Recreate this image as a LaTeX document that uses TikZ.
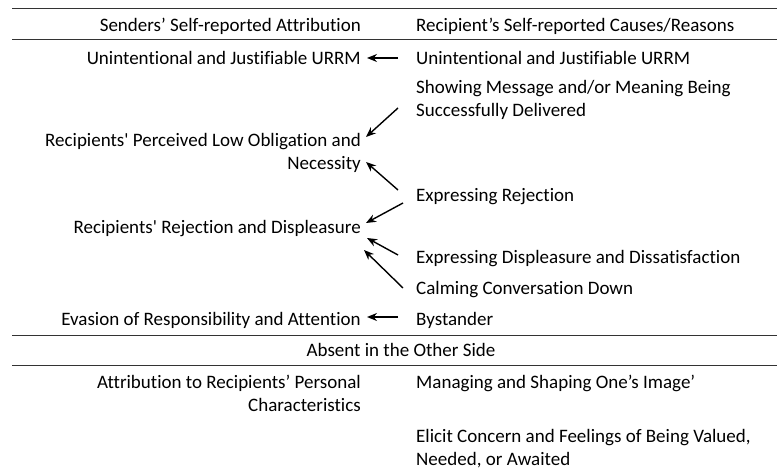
\documentclass[tikz,border=0pt]{standalone}
\usepackage{fontspec}
\setmainfont{Carlito}[Ligatures=NoCommon]
\usetikzlibrary{arrows.meta}
\tikzset{
  txt/.style={inner sep=0pt, font=\fontsize{19}{23}\selectfont},
  lft/.style={txt, anchor=base east, align=right},
  rgt/.style={txt, anchor=base west, align=left},
  rule/.style={line width=0.9pt, black!80},
  arr/.style={-{Stealth[length=10pt,width=8pt]}, line width=1.4pt}
}
\begin{document}
\begin{tikzpicture}[x=1pt,y=-1pt]
        \useasboundingbox (0,0) rectangle (777,470);
        \coordinate (E) at (12,0);
        \coordinate (W) at (777,0);
        \node[lft] (Lh) at (361,31.5) {Senders’ Self-reported Attribution};
        \node[rgt] (Rh) at (416,31.5) {Recipient’s Self-reported Causes/Reasons};
        \node[lft] (L1) at (361,64.5) {Unintentional and Justifiable URRM};
        \node[rgt] (R1) at (416,64.5) {Unintentional and Justifiable URRM};
        \node[rgt] (R2) at (416,116.5) {Showing Message and/or Meaning Being\\Successfully Delivered};
        \node[lft] (L2) at (361,169.5) {Recipients\textquotesingle{} Perceived Low Obligation and\\Necessity};
        \node[rgt] (R3) at (416,201.5) {Expressing Rejection};
        \node[lft] (L3) at (361,233.5) {Recipients\textquotesingle{} Rejection and Displeasure};
        \node[rgt] (R4) at (416,263.5) {Expressing Displeasure and Dissatisfaction};
        \node[rgt] (R5) at (416,294.5) {Calming Conversation Down};
        \node[lft] (L4) at (361,325.5) {Evasion of Responsibility and Attention};
        \node[rgt] (R6) at (416,325.5) {Bystander};
        \node[txt, anchor=base] (M) at (401,356.5) {Absent in the Other Side};
        \node[lft] (L5) at (361,411.5) {Attribution to Recipients’ Personal\\Characteristics};
        \node[rgt] (R7) at (416,388.5) {Managing and Shaping One’s Image’};
        \node[rgt] (R8) at (416,465.5) {Elicit Concern and Feelings of Being Valued,\\Needed, or Awaited};
        \coordinate (S1) at (398,58);  \coordinate (T1) at (367,58);
        \coordinate (S2) at (398,108); \coordinate (T2) at (366,137);
        \coordinate (S3) at (398,190); \coordinate (T3) at (366,162);
        \coordinate (S4) at (403,203); \coordinate (T4) at (366,223);
        \coordinate (S5) at (398,255); \coordinate (T5) at (367,238);
        \coordinate (S6) at (403,288); \coordinate (T6) at (364,250);
        \coordinate (S7) at (398,317); \coordinate (T7) at (367,317);
        \foreach \y in {8,39,335,365}
          \draw[rule] (E|-0,\y) -- (W|-0,\y);
        \foreach \i in {1,...,7}
          \draw[arr] (S\i) -- (T\i);
\end{tikzpicture}
\end{document}
